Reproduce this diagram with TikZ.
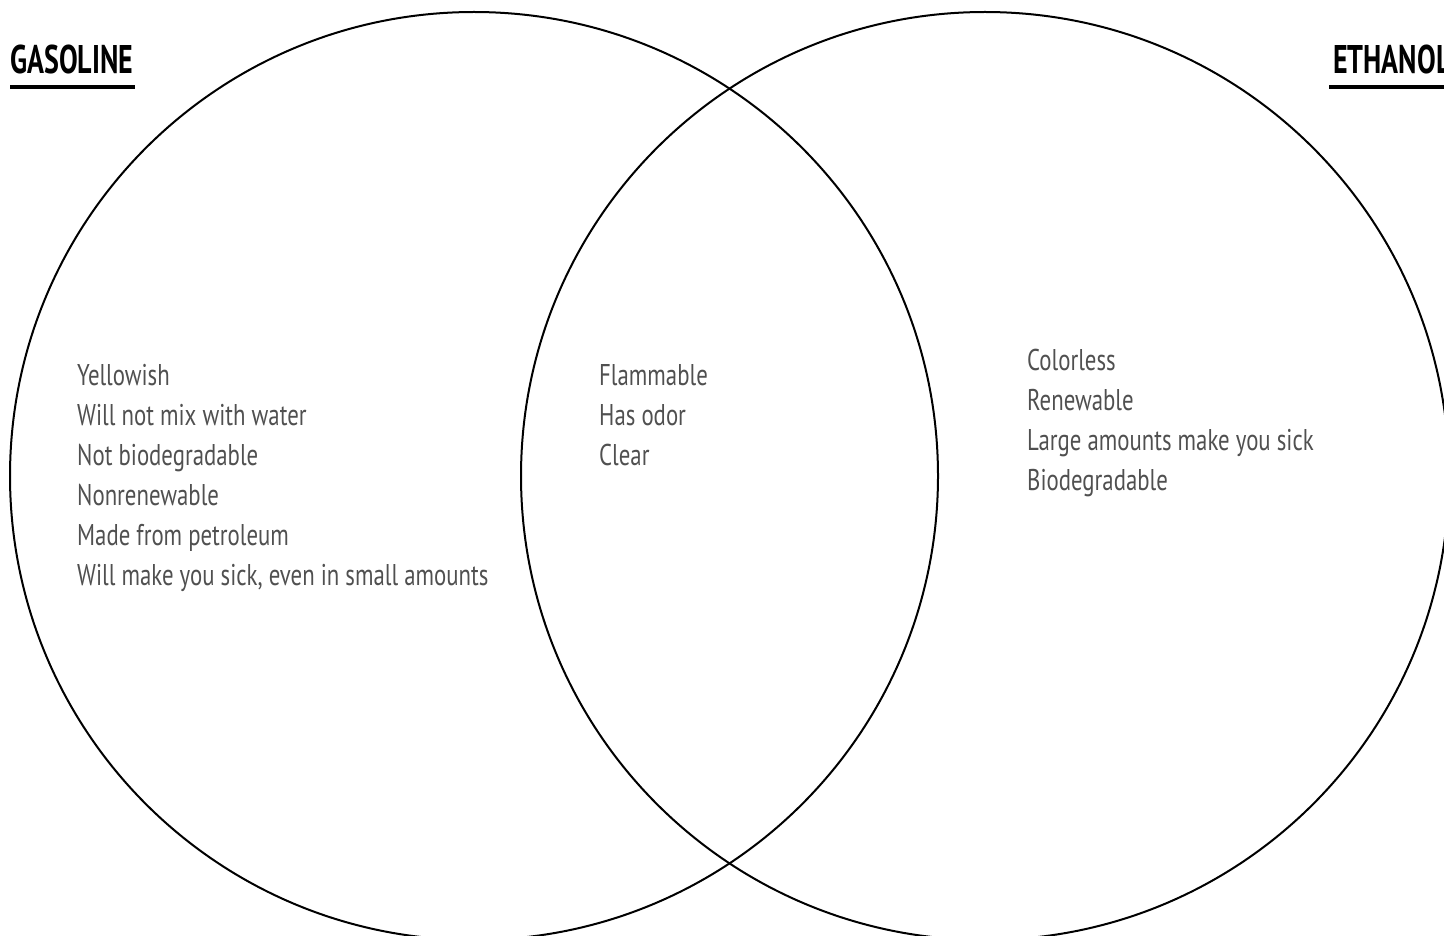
\documentclass[tikz,border=0pt]{standalone}
\usepackage{fontspec}
\setmainfont{PT Sans}[FakeStretch=0.76, BoldFeatures={FakeStretch=0.70}]
\definecolor{txtgray}{HTML}{505050}
\tikzset{
  item/.style={anchor=base west, inner sep=0pt, text=txtgray, font=\fontsize{30}{40}\selectfont},
  head/.style={anchor=base west, inner sep=0pt, text=black, font=\fontsize{40}{48}\selectfont\bfseries},
  ring/.style={draw=black, line width=2pt},
  bar/.style={fill=black, draw=none}
}
\begin{document}
\begin{tikzpicture}[x=1pt,y=-1pt]
\useasboundingbox (0,0) rectangle (1444,936);
\clip (0,0) rectangle (1444,936);
\draw[ring] (474,476) circle[radius=464];
\draw[ring] (985,476) circle[radius=464];
\node[head] (gas) at (10,74) {GASOLINE};
\fill[bar] (10,85) rectangle (135,89);
\node[head] (eth) at (1333,74) {ETHANOL};
\fill[bar] (1329,85) rectangle (1450,89);
\node[item] (g1) at (77,385) {Yellowish};
\node[item] (g2) at (77,425) {Will not mix with water};
\node[item] (g3) at (77,465) {Not biodegradable};
\node[item] (g4) at (77,505) {Nonrenewable};
\node[item] (g5) at (77,545) {Made from petroleum};
\node[item] (g6) at (77,585) {Will make you sick, even in small amounts};
\node[item] (m1) at (599,385) {Flammable};
\node[item] (m2) at (599,425) {Has odor};
\node[item] (m3) at (599,465) {Clear};
\node[item] (e1) at (1027,370) {Colorless};
\node[item] (e2) at (1027,410) {Renewable};
\node[item] (e3) at (1027,450) {Large amounts make you sick};
\node[item] (e4) at (1027,490) {Biodegradable};
\end{tikzpicture}
\end{document}
